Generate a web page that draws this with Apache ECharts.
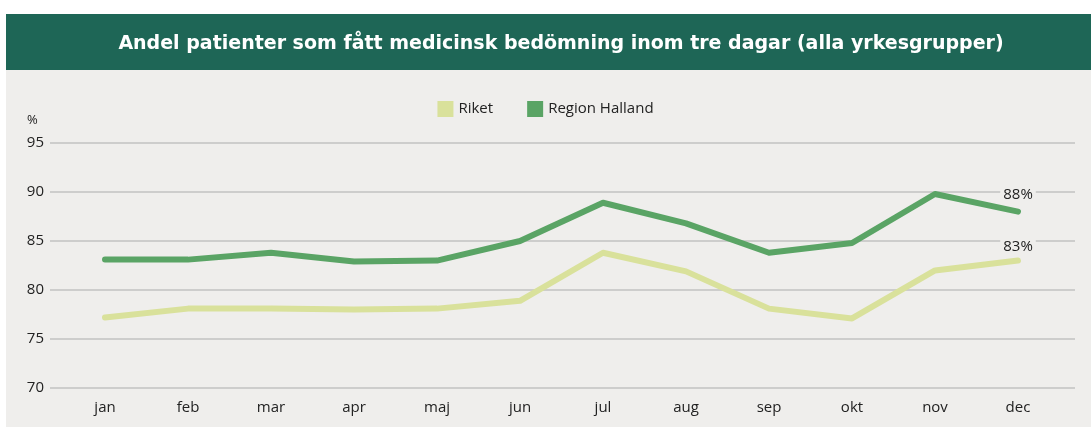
<!DOCTYPE html>
<html>
<head>
<meta charset="utf-8">
<script src="https://cdn.jsdelivr.net/npm/echarts@6/dist/echarts.min.js"></script>
<style>
  html, body { margin: 0; padding: 0; background: #fff; }
  #chart { width: 1091px; height: 427px; }
</style>
</head>
<body>
<div id="chart"></div>
<script>
// månader
var months = ['jan', 'feb', 'mar', 'apr', 'maj', 'jun', 'jul', 'aug', 'sep', 'okt', 'nov', 'dec'];
// Riket
var riket = [77.2, 78.1, 78.1, 78.0, 78.1, 78.9, 83.8, 81.9, 78.1, 77.1, 82.0, 83.0];
// Region Halland
var halland = [83.1, 83.1, 83.8, 82.9, 83.0, 85.0, 88.9, 86.8, 83.8, 84.8, 89.8, 88.0];
// slutetiketter
var endLabels = ['83%', '88%'];

var font = '"Open Sans", sans-serif';
var bg = '#efeeec';

function lastLabel(arr, text, dist) {
  return arr.map(function (v, i) {
    if (i !== arr.length - 1) return v;
    return {
      value: v,
      label: {
        show: true,
        position: 'top',
        distance: dist,
        formatter: text,
        color: '#222',
        fontSize: 15,
        fontFamily: font,
        backgroundColor: bg,
        padding: [0, 3]
      }
    };
  });
}

var myChart = echarts.init(document.getElementById('chart'));
var option = {
  animation: false,
  backgroundColor: '#fff',
  graphic: [
    { type: 'rect', z: -10, shape: { x: 6, y: 70, width: 1085, height: 357 }, style: { fill: bg } },
    { type: 'rect', z: -10, shape: { x: 6, y: 14, width: 1085, height: 56 }, style: { fill: '#1e6656' } },
    {
      type: 'text', left: 27, top: 114,
      style: { text: '%', fill: '#222', font: '13px ' + font }
    }
  ],
  title: {
    text: 'Andel patienter som fått medicinsk bedömning inom tre dagar (alla yrkesgrupper)',
    left: 556, top: 30, textAlign: 'center',
    textStyle: { color: '#fff', fontSize: 19, fontWeight: 'bold', fontFamily: '"DejaVu Sans", sans-serif' }
  },
  legend: {
    top: 96, left: 'center',
    itemWidth: 16, itemHeight: 16, itemGap: 34,
    icon: 'rect',
    textStyle: { color: '#222', fontSize: 15, fontFamily: font },
    data: ['Riket', 'Region Halland']
  },
  grid: [
    { left: 50, right: 16, top: 143, bottom: 39 },
    { left: 63.5, right: 31.5, top: 143, bottom: 39 }
  ],
  xAxis: [
    { gridIndex: 0, type: 'category', data: months, show: false },
    {
      gridIndex: 1, type: 'category', data: months,
      axisLine: { show: false }, axisTick: { show: false },
      axisLabel: { color: '#222', fontSize: 15, fontFamily: font, margin: 12 }
    }
  ],
  yAxis: [
    {
      gridIndex: 0, type: 'value', min: 70, max: 95, interval: 5,
      axisLine: { show: false }, axisTick: { show: false },
      axisLabel: { color: '#222', fontSize: 15, fontFamily: font, margin: 6 },
      splitLine: { lineStyle: { color: '#c2c2c2', width: 1.5 } }
    },
    {
      gridIndex: 1, type: 'value', min: 70, max: 95, interval: 5, show: false,
      splitLine: { show: false }
    }
  ],
  series: [
    {
      name: 'Riket', type: 'line', xAxisIndex: 1, yAxisIndex: 1,
      data: lastLabel(riket, endLabels[0], 6),
      color: '#d9e19b', symbol: 'circle', symbolSize: 1, showSymbol: true,
      lineStyle: { width: 6, cap: 'round', join: 'round' }
    },
    {
      name: 'Region Halland', type: 'line', xAxisIndex: 1, yAxisIndex: 1,
      data: lastLabel(halland, endLabels[1], 9),
      color: '#5aa465', symbol: 'circle', symbolSize: 1, showSymbol: true,
      lineStyle: { width: 6, cap: 'round', join: 'round' }
    }
  ]
};
myChart.setOption(option);
</script>
</body>
</html>
